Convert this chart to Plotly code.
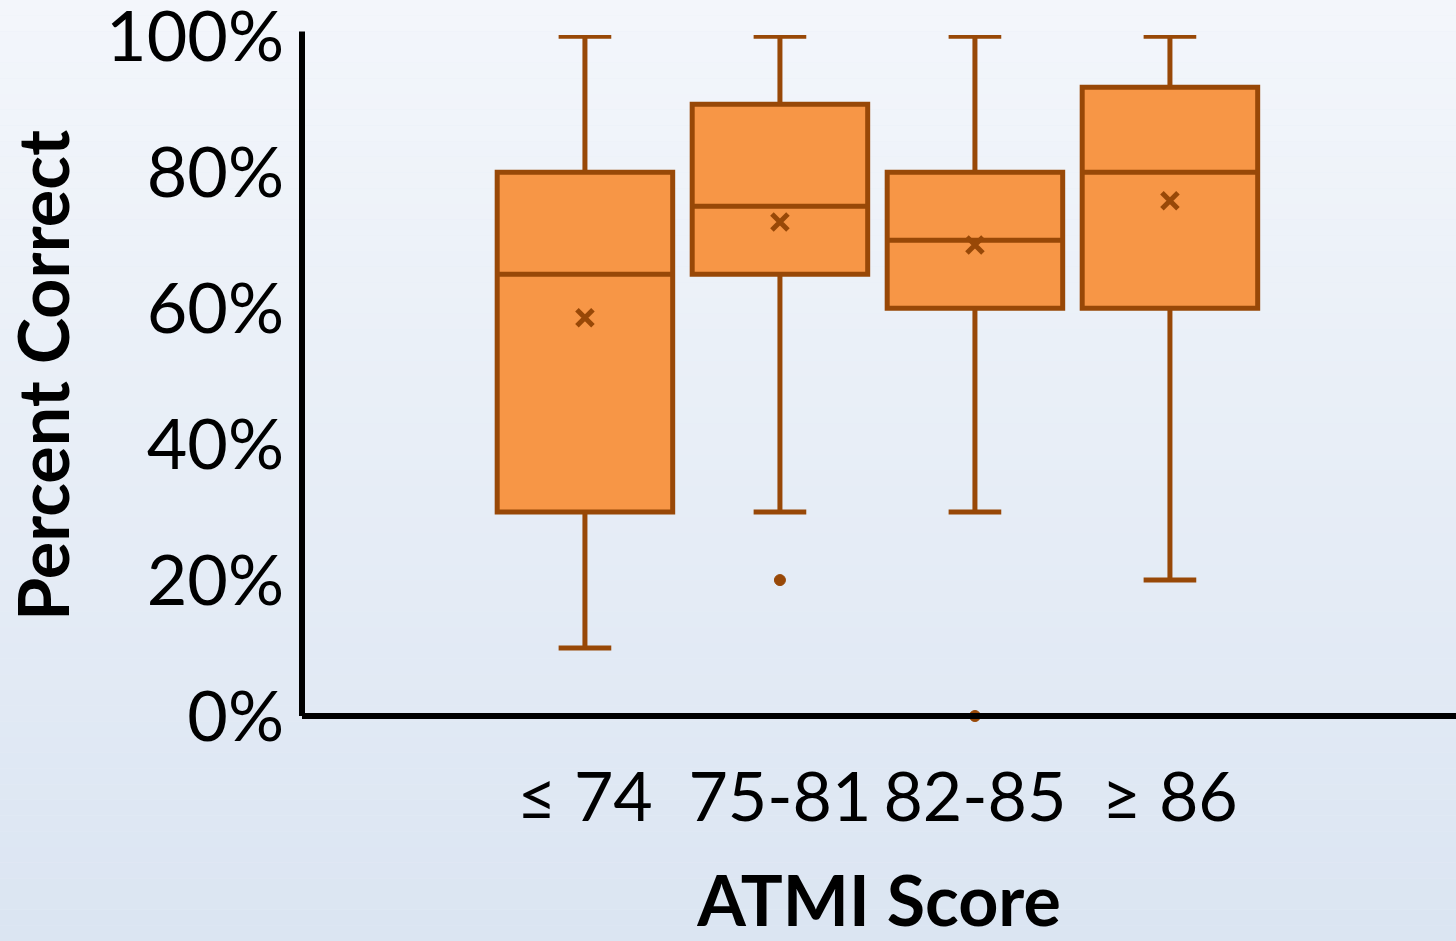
import plotly.graph_objects as go

categories = ["≤ 74", "75-81", "82-85", "≥ 86"]
lower_whisker = [0.10, 0.30, 0.30, 0.20]
q1_vals = [0.30, 0.65, 0.60, 0.60]
median_vals = [0.65, 0.75, 0.70, 0.80]
q3_vals = [0.80, 0.90, 0.80, 0.925]
upper_whisker = [1.00, 1.00, 1.00, 1.00]
mean_vals = [0.586, 0.727, 0.693, 0.758]
outlier_cat = [1, 2]
outlier_vals = [0.20, 0.00]

FILL = "#F79646"
EDGE = "#984807"
FONT = "Lato, 'Open Sans', sans-serif"

xpos = list(range(len(categories)))

fig = go.Figure()
fig.add_trace(go.Box(
    x=xpos, q1=q1_vals, median=median_vals, q3=q3_vals,
    lowerfence=lower_whisker, upperfence=upper_whisker,
    fillcolor=FILL, line=dict(color=EDGE, width=5),
    width=0.9, whiskerwidth=0.3, boxpoints=False, showlegend=False,
    hoverinfo="skip",
))
fig.add_trace(go.Scatter(
    x=xpos, y=mean_vals, mode="markers",
    marker=dict(symbol="x-thin", size=16, line=dict(color=EDGE, width=5)),
    showlegend=False, cliponaxis=False,
))
fig.add_trace(go.Scatter(
    x=outlier_cat, y=outlier_vals, mode="markers",
    marker=dict(symbol="circle", size=11, color=EDGE,
                line=dict(color=EDGE, width=1)),
    showlegend=False, cliponaxis=False,
))

# vertical background gradient
top = (243, 246, 251)
bot = (219, 229, 242)
n = 60
shapes = []
H, W = 941, 1456
ML, MB, MT = 302, 225, 35
PH = H - MB - MT
for i in range(n):
    t = i / (n - 1)
    c = tuple(round(top[k] + (bot[k] - top[k]) * t) for k in range(3))
    y1 = 1 - i / n
    y0 = 1 - (i + 1) / n
    shapes.append(dict(
        type="rect", xref="x domain", yref="y domain", layer="below",
        x0=-ML / (W - ML), x1=1.0,
        y0=(y0 * H - MB) / PH, y1=(y1 * H - MB) / PH,
        fillcolor="rgb(%d,%d,%d)" % c, line=dict(width=0),
    ))

fig.update_layout(
    width=W, height=H,
    margin=dict(l=ML, r=0, t=MT, b=MB, autoexpand=False),
    paper_bgcolor="rgb(231,237,246)",
    plot_bgcolor="rgba(0,0,0,0)",
    shapes=shapes,
    font=dict(family=FONT, color="black"),
)
fig.update_xaxes(
    range=[-1.451, 4.467], tickvals=xpos, ticktext=categories,
    tickfont=dict(size=68), showgrid=False, zeroline=False, automargin=False,
    showline=False, ticks="outside", ticklen=22, tickcolor="rgba(0,0,0,0)",
    title=dict(text="<b>ATMI Score</b>", font=dict(size=70), standoff=62),
)
fig.update_yaxes(
    range=[0, 1.002], tickvals=[0, 0.2, 0.4, 0.6, 0.8, 1.0], tickformat=".0%",
    tickfont=dict(size=70), showgrid=False, zeroline=False, automargin=False,
    showline=False, ticks="outside", ticklen=3, tickcolor="rgba(0,0,0,0)",
    ticklabeloverflow="allow",
    title=dict(text="<b>Percent Correct</b>", font=dict(size=70), standoff=30),
)
# axis lines
fig.add_shape(type="line", xref="x domain", yref="y domain",
              x0=0, x1=1, y0=0, y1=0, line=dict(color="black", width=6), layer="above")
fig.add_shape(type="line", xref="x domain", yref="y domain",
              x0=0, x1=0, y0=0, y1=1.005, line=dict(color="black", width=6), layer="above")

fig.write_html("out.html", config={"displayModeBar": False},
               post_script="document.body.style.margin='0';document.body.style.padding='0';")
